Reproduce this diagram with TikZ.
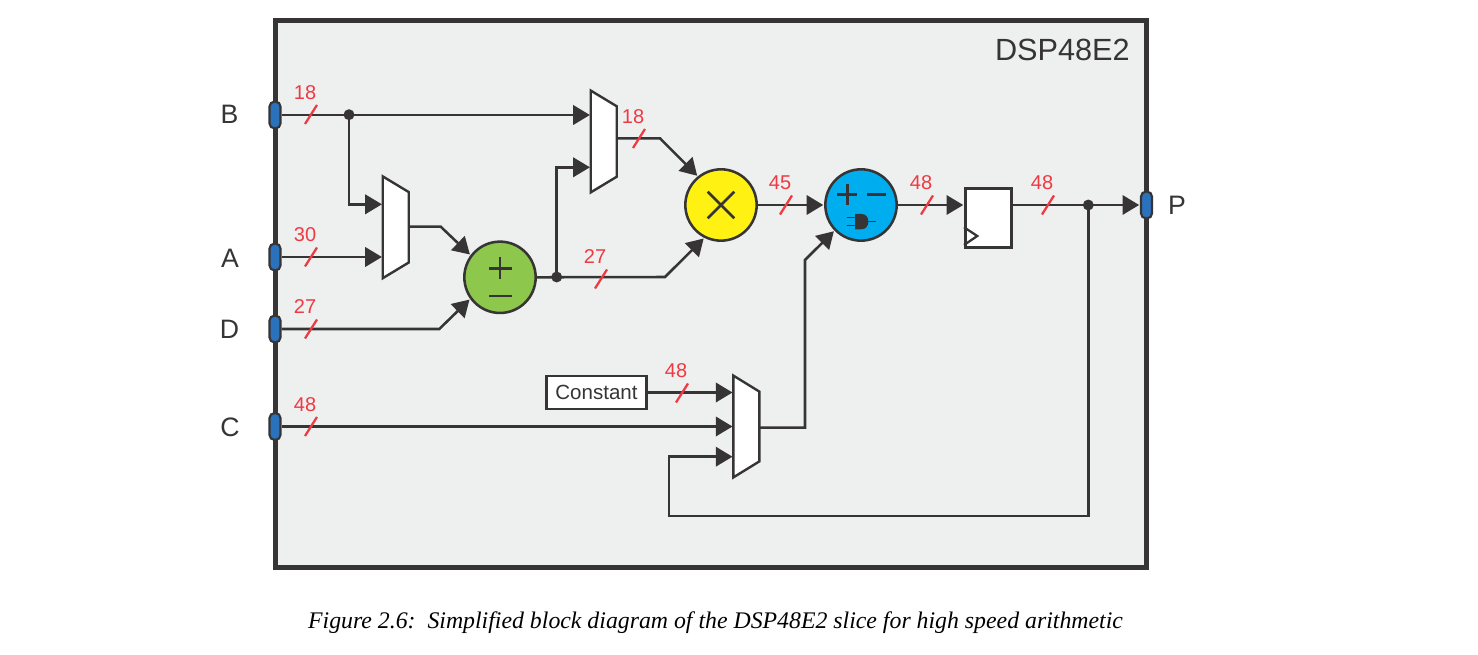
\documentclass[tikz,border=0pt]{standalone}
\usepackage{fontspec}
\setmainfont{Liberation Sans}
\newfontfamily\capfont{Liberation Serif}
\usetikzlibrary{arrows.meta,calc}
\definecolor{ink}{HTML}{363435}
\definecolor{panel}{HTML}{EEF0EF}
\definecolor{busred}{HTML}{EE3A43}
\definecolor{portblue}{HTML}{2B72BC}
\definecolor{addgreen}{HTML}{8DC74B}
\definecolor{mulyellow}{HTML}{FFF212}
\definecolor{alublue}{HTML}{00AEEF}
\newcommand{\fs}[1]{\fontsize{#1}{#1}\selectfont}
\tikzset{
  x=0.75pt,y=-0.75pt,
  sig/.style={draw=ink,line width=1.9pt,line join=miter,-{Triangle[length=12.5pt,width=14.5pt]},shorten >=0.6pt},
  frame/.style={draw=ink,line width=3.75pt,fill=panel,line join=miter},
  portnode/.style={draw=ink,line width=1.6pt,fill=portblue,rounded corners=3.6pt,minimum width=8.2pt,minimum height=20pt,inner sep=0pt},
  pinlabel/.style={text=ink,font=\fs{20},inner sep=0pt},
  buslabel/.style={text=busred,font=\fs{15},inner sep=0pt},
  tick/.style={draw=busred,line width=1.7pt},
  muxbox/.style={inner sep=0pt,minimum width=19.1pt},
  muxline/.style={draw=ink,line width=1.8pt,fill=white,line join=miter},
  opnode/.style={circle,draw=ink,line width=1.9pt,minimum size=53.5pt,inner sep=0pt},
  glyph/.style={draw=ink,line width=1.9pt},
  dotnode/.style={circle,fill=ink,minimum size=8.2pt,inner sep=0pt},
  regnode/.style={draw=ink,line width=1.9pt,fill=white,minimum width=34.5pt,minimum height=44pt,inner sep=0pt},
  constnode/.style={draw=ink,line width=1.9pt,fill=white,minimum width=75pt,minimum height=25pt,inner sep=0pt,text=ink,font=\fs{15.4}},
}
\newcommand{\muxshape}[2]{\draw[muxline] (#1.north west) -- ($(#1.north east)+(0,#2)$) -- ($(#1.south east)+(0,-#2)$) -- (#1.south west) -- cycle;}
\newcommand{\bustick}[4]{\draw[tick] (#1-6,#2+9.5) -- (#1+6,#2-9.5); \node[buslabel] (#4) at (#1-6,#2-22) {#3};}
\begin{document}
\begin{tikzpicture}
\useasboundingbox (0,0) rectangle (1478,655);
\fill[white] (0,0) rectangle (1478,655);
\draw[frame] (275,21) rectangle (1146.5,568);
\node[text=ink,font=\fs{23},anchor=east,inner sep=0pt] (title) at (1130,49.5) {DSP48E2};
% ports
\node[portnode] (pB) at (275,115) {};
\node[portnode] (pA) at (275,257) {};
\node[portnode] (pD) at (275,329) {};
\node[portnode] (pC) at (275,426.5) {};
\node[portnode] (pP) at (1146.5,205) {};
\node[pinlabel] (lB) at (229.5,114) {B};
\node[pinlabel] (lA) at (230,258) {A};
\node[pinlabel] (lD) at (229.5,329) {D};
\node[pinlabel] (lC) at (230,427) {C};
\node[pinlabel] (lP) at (1177,205) {P};
% muxes
\node[muxbox,minimum height=76pt] (m1) at (395.7,227.3) {};
\node[muxbox,minimum height=76pt] (m2) at (603.7,141.5) {};
\node[muxbox,minimum height=76pt] (m3) at (746.3,426.5) {};
% operators
\node[opnode,fill=addgreen] (add) at (500,277.3) {};
\node[opnode,fill=mulyellow] (mul) at (721,205) {};
\node[opnode,fill=alublue] (alu) at (861,205) {};
\node[regnode] (reg) at (988.3,218) {};
\node[constnode] (const) at (596.5,392.5) {Constant};
% junctions and bends
\node[dotnode] (j1) at (349,114.7) {};
\node[dotnode] (j2) at (556.7,277) {};
\node[dotnode] (j3) at (1088.3,205) {};
\coordinate (b1) at (440.7,226.7);
\coordinate (b2) at (439.3,329);
\coordinate (b3) at (660,138.3);
\coordinate (b4) at (665,277);
\coordinate (b5) at (805,427.7);
\coordinate (b6) at (805,260);
\coordinate (b7) at (669,516);
% connectors
\draw[sig] (pB.east) -- (m2.west |- pB.east);
\draw[sig] (j1.center) |- (m1.west |- 0,204.3);
\draw[sig] (pA.east) -- (m1.west |- pA.east);
\draw[sig] (m1.east |- b1) -- (b1) -- (add.143);
\draw[sig] (pD.east) -- (b2) -- (add.216);
\draw[sig] (j2.center) |- (m2.west |- 0,167.3);
\draw[sig] (add.east) -- (b4) -- (mul.243);
\draw[sig] (m2.east |- b3) -- (b3) -- (mul.129);
\draw[sig] (mul.east) -- (alu.west);
\draw[sig] (alu.east) -- (reg.west |- alu.east);
\draw[sig] (reg.east |- pP.west) -- (pP.west);
\draw[sig] (const.east) -- (m3.west |- const.east);
\draw[sig] (pC.east) -- (m3.west |- pC.east);
\draw[sig] (m3.east |- b5) -- (b5) -- (b6) -- (alu.224);
\draw[sig] (j3.center) |- (b7) |- (m3.west |- 0,456.7);
% mux bodies
\muxshape{m1}{15.7}
\muxshape{m2}{15.7}
\muxshape{m3}{16}
% register clock mark
\draw[draw=ink,line width=1.7pt,line join=miter] (reg.west |- 0,227.3) -- (977.3,236) -- (reg.west |- 0,245);
% operator glyphs
\draw[glyph] (489,268.3) -- (511.7,268.3) (500,256.7) -- (500,279.3);
\draw[glyph] (489,296) -- (511.7,296);
\draw[glyph] (707.7,191.7) -- (734.3,218.3) (707.7,218.3) -- (734.3,191.7);
\draw[glyph] (837.3,194.7) -- (857.3,194.7) (847.3,184.3) -- (847.3,205);
\draw[glyph] (867.3,194.5) -- (885.7,194.5);
\fill[ink] (855,214) -- (861,214) .. controls (866,214) and (868.3,217) .. (868.3,221.6) .. controls (868.3,226) and (866,229.3) .. (861,229.3) -- (855,229.3) -- cycle;
\draw[draw=ink,line width=0.9pt] (846.7,217.7) -- (855,217.7) (846.7,225.3) -- (855,225.3) (868,221.3) -- (876,221.3);
% bus ticks
\bustick{311}{114.5}{18}{w1}
\bustick{311}{257}{30}{w2}
\bustick{311}{329}{27}{w3}
\bustick{311}{426.5}{48}{w4}
\bustick{639}{138.5}{18}{w5}
\bustick{601}{279}{27}{w6}
\bustick{786}{205}{45}{w7}
\bustick{927}{205}{48}{w8}
\bustick{1048}{205}{48}{w9}
\bustick{682}{393}{48}{w10}
% caption
\node[anchor=center,inner sep=0pt,text=black,font=\capfont\itshape\fs{17.85}] (cap) at (715.5,622.5) {Figure 2.6:\ \ Simplified block diagram of the DSP48E2 slice for high speed arithmetic};
\end{tikzpicture}
\end{document}
